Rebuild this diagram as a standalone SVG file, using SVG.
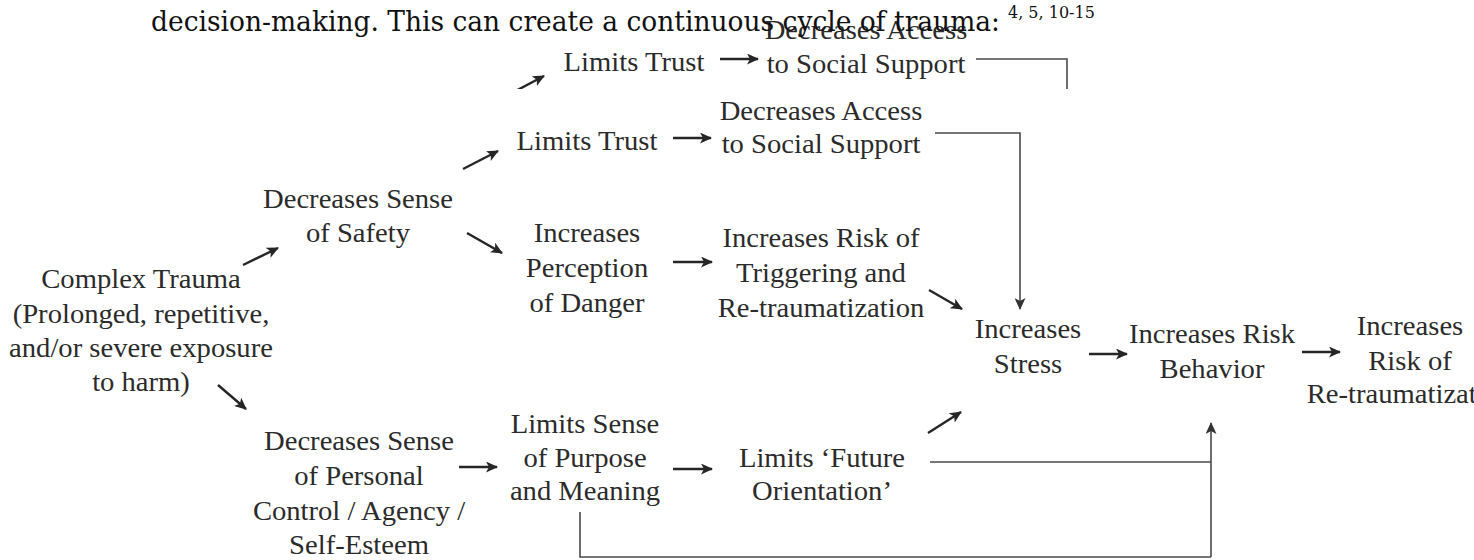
<svg xmlns="http://www.w3.org/2000/svg" width="1474" height="560" viewBox="0 0 1474 560">
  <style>
    .lbl { font-family: "Liberation Serif", "Times New Roman", serif; font-size: 26.5px; fill: #2b2b2b; text-anchor: middle; }
    .head { font-family: "DejaVu Serif", "Liberation Serif", serif; font-size: 28px; fill: #111; }
    .sup { font-family: "DejaVu Serif", "Liberation Serif", serif; font-size: 16px; fill: #111; }
    .arw { stroke: #262626; stroke-width: 2.4; fill: none; marker-end: url(#head); }
    .wire { stroke: #4a4a4a; stroke-width: 1.6; fill: none; }
    .wire-arw { stroke: #4a4a4a; stroke-width: 1.6; fill: none; marker-end: url(#thin); }
  </style>
  <defs>
    <marker id="head" markerUnits="userSpaceOnUse" markerWidth="13" markerHeight="11" refX="11" refY="5.5" orient="auto">
      <path d="M0,0 L12,5.5 L0,11 L3,5.5 Z" fill="#262626"/>
    </marker>
    <marker id="thin" markerUnits="userSpaceOnUse" markerWidth="12" markerHeight="11" refX="11" refY="5.5" orient="auto">
      <path d="M0,0 L12,5.5 L0,11 L3,5.5 Z" fill="#333"/>
    </marker>
    <clipPath id="stripClip">
      <rect x="0" y="0" width="1474" height="89"/>
    </clipPath>
  </defs>

  <rect width="1474" height="560" fill="#fff"/>

  <!-- upper strip: repeated top row of the chart, cut off below -->
  <g id="strip" clip-path="url(#stripClip)">
    <g transform="translate(634,0) scale(1.08,1)"><text class="lbl" x="0" y="71">Limits Trust</text></g>
    <g transform="translate(866,0) scale(1.08,1)">
      <text class="lbl" x="0" y="39">Decreases Access</text>
      <text class="lbl" x="0" y="73">to Social Support</text>
    </g>
    <line class="arw" x1="720" y1="59" x2="758" y2="59"/>
    <line class="arw" x1="508" y1="95" x2="544" y2="76"/>
    <polyline class="wire" points="976,59 1067,59 1067,120"/>
  </g>

  <!-- running text line above the chart -->
  <text class="head" x="151" y="31" textLength="849" lengthAdjust="spacingAndGlyphs">decision-making. This can create a continuous cycle of trauma:</text>
  <text class="sup" x="1008" y="18">4, 5, 10-15</text>

  <!-- nodes -->
  <g id="n-complex-trauma" transform="translate(141,0) scale(1.08,1)">
    <text class="lbl" x="0" y="288">Complex Trauma</text>
    <text class="lbl" x="0" y="323">(Prolonged, repetitive,</text>
    <text class="lbl" x="0" y="357">and/or severe exposure</text>
    <text class="lbl" x="0" y="391">to harm)</text>
  </g>
  <g id="n-safety" transform="translate(358,0) scale(1.08,1)">
    <text class="lbl" x="0" y="208">Decreases Sense</text>
    <text class="lbl" x="0" y="242">of Safety</text>
  </g>
  <g id="n-control" transform="translate(359,0) scale(1.08,1)">
    <text class="lbl" x="0" y="450">Decreases Sense</text>
    <text class="lbl" x="0" y="485">of Personal</text>
    <text class="lbl" x="0" y="520">Control / Agency /</text>
    <text class="lbl" x="0" y="554">Self-Esteem</text>
  </g>
  <g id="n-trust" transform="translate(587,0) scale(1.08,1)">
    <text class="lbl" x="0" y="150">Limits Trust</text>
  </g>
  <g id="n-danger" transform="translate(587,0) scale(1.08,1)">
    <text class="lbl" x="0" y="242">Increases</text>
    <text class="lbl" x="0" y="277">Perception</text>
    <text class="lbl" x="0" y="312">of Danger</text>
  </g>
  <g id="n-purpose" transform="translate(585,0) scale(1.08,1)">
    <text class="lbl" x="0" y="433">Limits Sense</text>
    <text class="lbl" x="0" y="467">of Purpose</text>
    <text class="lbl" x="0" y="500">and Meaning</text>
  </g>
  <g id="n-support" transform="translate(821,0) scale(1.08,1)">
    <text class="lbl" x="0" y="120">Decreases Access</text>
    <text class="lbl" x="0" y="153">to Social Support</text>
  </g>
  <g id="n-triggering" transform="translate(821,0) scale(1.08,1)">
    <text class="lbl" x="0" y="247">Increases Risk of</text>
    <text class="lbl" x="0" y="282">Triggering and</text>
    <text class="lbl" x="0" y="317">Re-traumatization</text>
  </g>
  <g id="n-future" transform="translate(822,0) scale(1.08,1)">
    <text class="lbl" x="0" y="467">Limits ‘Future</text>
    <text class="lbl" x="0" y="500">Orientation’</text>
  </g>
  <g id="n-stress" transform="translate(1028,0) scale(1.08,1)">
    <text class="lbl" x="0" y="338">Increases</text>
    <text class="lbl" x="0" y="373">Stress</text>
  </g>
  <g id="n-behavior" transform="translate(1212,0) scale(1.08,1)">
    <text class="lbl" x="0" y="343">Increases Risk</text>
    <text class="lbl" x="0" y="378">Behavior</text>
  </g>
  <g id="n-retrauma" transform="translate(1410,0) scale(1.08,1)">
    <text class="lbl" x="0" y="335">Increases</text>
    <text class="lbl" x="0" y="370">Risk of</text>
    <text class="lbl" x="0" y="403">Re-traumatization</text>
  </g>

  <!-- connectors -->
  <g id="connectors">
    <line class="arw" x1="243" y1="265" x2="278" y2="248"/>
    <line class="arw" x1="218" y1="385" x2="246" y2="409"/>
    <line class="arw" x1="463" y1="169" x2="498" y2="151"/>
    <line class="arw" x1="467" y1="233" x2="502" y2="253"/>
    <line class="arw" x1="459" y1="467" x2="497" y2="467"/>
    <line class="arw" x1="673" y1="138" x2="711" y2="138"/>
    <line class="arw" x1="673" y1="262" x2="712" y2="262"/>
    <line class="arw" x1="673" y1="469" x2="712" y2="469"/>
    <line class="arw" x1="929" y1="290" x2="962" y2="309"/>
    <line class="arw" x1="928" y1="433" x2="961" y2="412"/>
    <line class="arw" x1="1089" y1="354" x2="1127" y2="354"/>
    <line class="arw" x1="1302" y1="352" x2="1340" y2="352"/>
    <polyline class="wire-arw" points="935,133 1020,133 1020,309"/>
    <line class="wire" x1="930" y1="462" x2="1211" y2="462"/>
    <line class="wire-arw" x1="1211" y1="557" x2="1211" y2="423"/>
    <polyline class="wire" points="580,512 580,557 1211,557"/>
  </g>
</svg>
